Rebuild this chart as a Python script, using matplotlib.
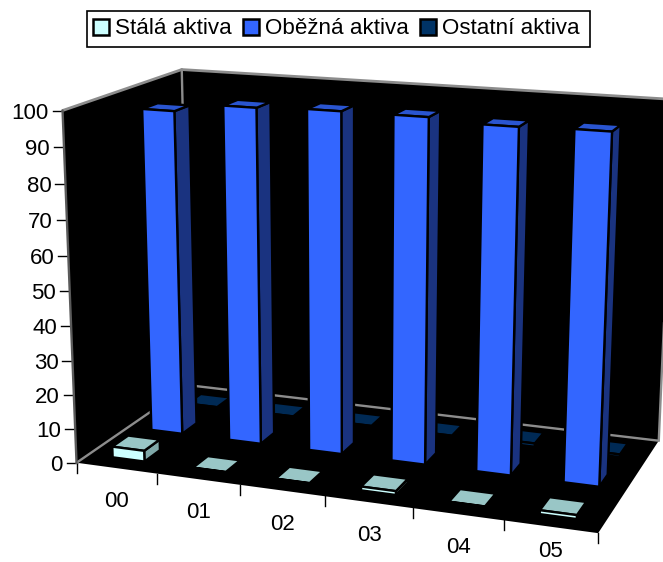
import numpy as np
import matplotlib
matplotlib.use("Agg")
import matplotlib.pyplot as plt
from matplotlib.patches import Polygon, Patch, Rectangle

plt.rcParams['font.family'] = ['Liberation Sans', 'DejaVu Sans']

# Chart data (percent of total assets per year)
years = ['00', '01', '02', '03', '04', '05']
series_names = ['Stálá aktiva', 'Oběžná aktiva', 'Ostatní aktiva']
stala = [3.2, 0.1, 0.1, 1.1, 0.1, 1.1]
obezna = [95.5, 98.0, 98.6, 98.6, 97.6, 98.0]
ostatni = [0.3, 0.3, 0.3, 0.3, 1.0, 0.8]
yticks = [0, 10, 20, 30, 40, 50, 60, 70, 80, 90, 100]

# Face colours of each series: front, side, top
face_colors = [('#CCFFFF', '#7FA8A8', '#99C6C6'),
               ('#3366FF', '#1A3380', '#2A55D0'),
               ('#003366', '#001A33', '#002A55')]

# Camera calibration: (category, depth, value) box corners and axis ticks
# tied to their location on the canvas.
calib_world = np.array([
    (0, 0, 0), (6, 0, 0), (0, 1, 0), (6, 1, 0),
    (0, 0, 100), (0, 1, 100), (6, 1, 100),
    (1, 0, 0), (2, 0, 0), (3, 0, 0), (4, 0, 0), (5, 0, 0),
    (0, 0, 50),
], float)
calib_canvas = np.array([
    (77, 462.5), (598, 532.7), (188.5, 385), (659, 440.5),
    (62, 110.5), (182, 70), (674, 99.5),
    (157, 474), (240, 485.7), (325.7, 496.7), (413, 508), (504, 520.7),
    (70, 290),
], float)


def fit_camera(world, canvas):
    rows, rhs = [], []
    for (x, y, z), (u, v) in zip(world, canvas):
        rows.append([x, y, z, 1, 0, 0, 0, 0, -u * x, -u * y, -u * z])
        rhs.append(u)
        rows.append([0, 0, 0, 0, x, y, z, 1, -v * x, -v * y, -v * z])
        rhs.append(v)
    sol = np.linalg.lstsq(np.array(rows), np.array(rhs), rcond=None)[0]
    return np.append(sol, 1).reshape(3, 4)


CAM = fit_camera(calib_world, calib_canvas)


def project(x, y, z):
    p = CAM @ np.array([x, y, z, 1.0])
    return p[0] / p[2], p[1] / p[2]


def quad(ax, corners, color, zorder, ec='black', lw=1.7):
    ax.add_patch(Polygon([project(*c) for c in corners], closed=True,
                         facecolor=color, edgecolor=ec, linewidth=lw,
                         joinstyle='round', zorder=zorder))


def line3(ax, a, b, color, lw, zorder=3):
    pa, pb = project(*a), project(*b)
    ax.plot([pa[0], pb[0]], [pa[1], pb[1]], color=color, lw=lw, zorder=zorder,
            solid_capstyle='round')


fig = plt.figure(figsize=(6.63, 5.62), dpi=100)
ax = fig.add_axes([0, 0, 1, 1])
ax.set_xlim(0, 663)
ax.set_ylim(562, 0)
ax.axis('off')

# Walls and floor
quad(ax, [(0, 1, 0), (6, 1, 0), (6, 1, 100), (0, 1, 100)], 'black', 1, ec='none')
quad(ax, [(0, 0, 0), (0, 1, 0), (0, 1, 100), (0, 0, 100)], 'black', 1, ec='none')
quad(ax, [(0, 0, 0), (6, 0, 0), (6, 1, 0), (0, 1, 0)], 'black', 1, ec='none')

# Wall edges
edge_gray = '#8C8C8C'
line3(ax, (0, 0, 0), (0, 1, 0), edge_gray, 1.7)
line3(ax, (0, 1, 0), (6, 1, 0), edge_gray, 1.7)
line3(ax, (0, 1, 0), (0, 1, 100), edge_gray, 1.7)
line3(ax, (6, 1, 0), (6, 1, 100), edge_gray, 1.7)
line3(ax, (0, 0, 100), (0, 1, 100), edge_gray, 2.0)
line3(ax, (0, 1, 100), (6, 1, 100), edge_gray, 2.0)
line3(ax, (0, 0, 0), (0, 0, 100), '#5A5A5A', 1.7)

# Bars, drawn from the back row to the front one
bar_width = 0.4
bar_depth = 0.4 / 3
values = [stala, obezna, ostatni]
z = 10
for s in (2, 1, 0):
    y0 = (s + 0.3) / 3
    y1 = y0 + bar_depth
    front, side, top = face_colors[s]
    for k, val in enumerate(values[s]):
        x0 = k + 0.5 - bar_width / 2
        x1 = x0 + bar_width
        quad(ax, [(x1, y0, 0), (x1, y1, 0), (x1, y1, val), (x1, y0, val)], side, z)
        quad(ax, [(x0, y0, val), (x1, y0, val), (x1, y1, val), (x0, y1, val)], top, z + 1)
        quad(ax, [(x0, y0, 0), (x1, y0, 0), (x1, y0, val), (x0, y0, val)], front, z + 2)
    z += 5

# Value axis
for t in yticks:
    px, py = project(0, 0, t)
    ax.plot([px - 10, px], [py, py], color='black', lw=1, zorder=2)
    ax.text(px - 14, py, str(t), ha='right', va='center_baseline', fontsize=16,
            color='black')

# Category axis
for k in range(len(years) + 1):
    px, py = project(k, 0, 0)
    ax.plot([px, px], [py, py + 10], color='black', lw=1, zorder=2)
for k, label in enumerate(years):
    px, py = project(k + 0.5, 0, 0)
    # The last label sits against the lower canvas edge
    ax.text(px, min(py + 31, 549), label, ha='center', va='center_baseline',
            fontsize=16, color='black')

# Legend: entries on a separately framed box, which is wider than its content
ax.add_patch(Rectangle((87, 10.5), 503, 36.5, facecolor='white', edgecolor='black',
                       linewidth=1.2, zorder=30))
handles = [Patch(facecolor=face_colors[i][0], edgecolor='black', linewidth=1.8,
                 label=series_names[i]) for i in range(3)]
leg = ax.legend(handles=handles, ncols=3, loc='center left', bbox_to_anchor=(87, 29),
                bbox_transform=ax.transData, fontsize=16.1, frameon=False,
                handlelength=0.7, handleheight=0.7, handletextpad=0.27,
                columnspacing=0.52, borderpad=0.27, borderaxespad=0)
leg.set_zorder(31)

fig.savefig('out.png', dpi=100, facecolor='white')
